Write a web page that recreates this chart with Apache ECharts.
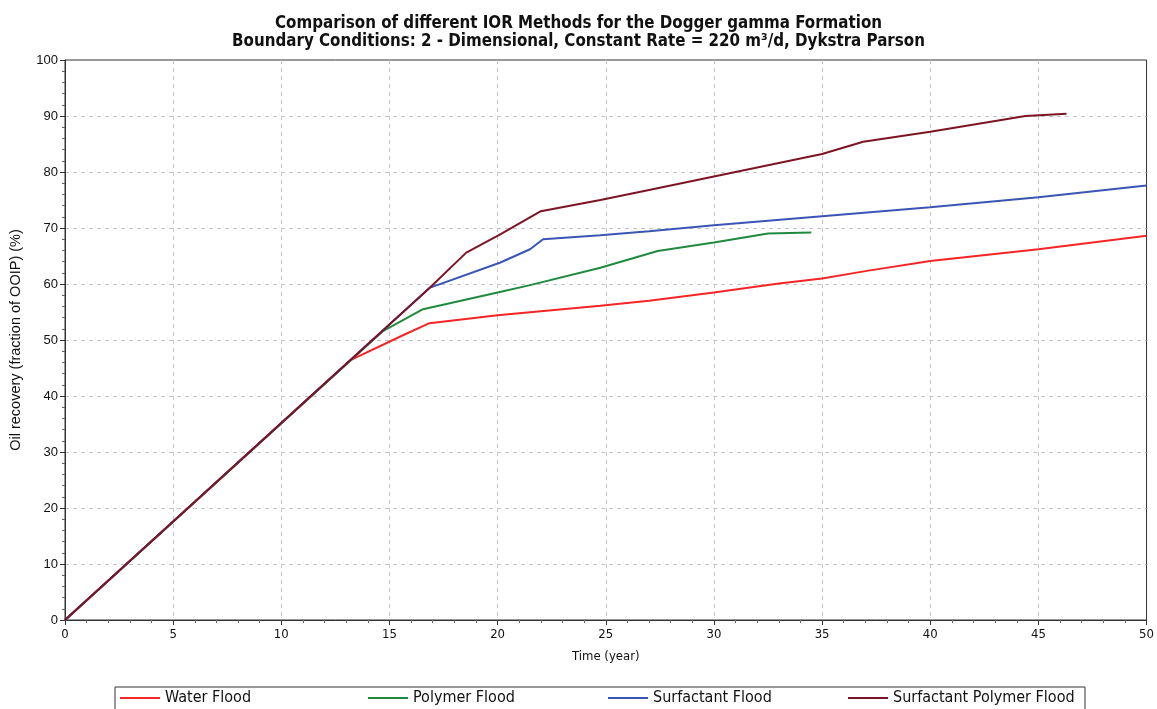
<!DOCTYPE html>
<html>
<head>
<meta charset="utf-8">
<script src="https://cdn.jsdelivr.net/npm/echarts@6/dist/echarts.min.js"></script>
<style>
  html, body { margin: 0; padding: 0; background: #ffffff; }
  #chart { width: 1157px; height: 709px; }
</style>
</head>
<body>
<div id="chart"></div>
<script>
  // series names
  const seriesNames = ['Water Flood', 'Polymer Flood', 'Surfactant Flood', 'Surfactant Polymer Flood']

  // [time (year), oil recovery (%)]
  const waterFlood = [
    [0, 0], [13.2, 46.4], [15.6, 50.8], [16.85, 53.0], [20, 54.4], [24.75, 56.1], [27, 57.0],
    [30, 58.5], [33, 60.1], [35, 61.0], [37, 62.3], [40, 64.1], [45, 66.2], [50, 68.6]
  ]
  const polymerFlood = [
    [0, 0], [14.7, 51.6], [16.55, 55.5], [20, 58.5], [21.5, 59.8], [24.75, 62.9],
    [27.4, 65.9], [30, 67.4], [32.5, 69.0], [34.5, 69.2]
  ]
  const surfactantFlood = [
    [0, 0], [16.85, 59.3], [20.1, 63.8], [21.5, 66.2], [22.1, 68.0], [24.75, 68.7], [27, 69.4],
    [30, 70.5], [35, 72.1], [40, 73.7], [45, 75.5], [50, 77.6]
  ]
  const surfactantPolymerFlood = [
    [0, 0], [16.85, 59.3], [18.55, 65.6], [20.1, 68.8], [22, 73.0], [24.75, 75.0], [27, 76.8],
    [30, 79.2], [35, 83.2], [36.9, 85.4], [40, 87.2], [44.4, 90.0], [46.3, 90.4]
  ]

  const seriesData = [waterFlood, polymerFlood, surfactantFlood, surfactantPolymerFlood]
  const colors = ['#f52525', '#1f8a3e', '#3a55b5', '#7d1424']

  const narrow = '"DejaVu Sans Condensed", "Liberation Sans", sans-serif'
  const plain = '"Liberation Sans", Arial, sans-serif'
  const legendLeft = [120, 368, 608, 848]

  let chart = echarts.init(document.getElementById('chart'))

  chart.setOption({
    animation: false,
    title: {
      text: 'Comparison of different IOR Methods for the Dogger gamma Formation\nBoundary Conditions: 2 - Dimensional, Constant Rate = 220 m³/d, Dykstra Parson',
      left: 'center',
      top: 10,
      textStyle: {
        fontFamily: narrow,
        fontSize: 16.8,
        fontWeight: 'bold',
        color: '#111',
        lineHeight: 18
      }
    },
    legend: seriesNames.map((name, i) => ({
      data: [name],
      left: legendLeft[i],
      top: 690,
      icon: 'rect',
      itemWidth: 40,
      itemHeight: 2,
      itemGap: 4,
      padding: 0,
      textStyle: { fontFamily: narrow, fontSize: 16, color: '#111', padding: [0, 0, 0, 0] }
    })),
    graphic: [{
      type: 'rect',
      shape: { x: 115, y: 687, width: 970, height: 30 },
      style: { fill: 'none', stroke: '#333', lineWidth: 1 }
    }],
    grid: {
      left: 65,
      right: 10,
      top: 60,
      bottom: 89,
      show: true,
      borderColor: '#333',
      borderWidth: 1
    },
    xAxis: {
      type: 'value',
      min: 0,
      max: 50,
      interval: 5,
      name: 'Time (year)',
      nameLocation: 'middle',
      nameGap: 30,
      nameTextStyle: { fontFamily: narrow, fontSize: 13, color: '#111' },
      axisLine: { lineStyle: { color: '#333' } },
      axisTick: { length: 5, lineStyle: { color: '#333' } },
      minorTick: { show: true, splitNumber: 5, length: 3, lineStyle: { color: '#666' } },
      axisLabel: { fontFamily: narrow, fontSize: 13, color: '#111', margin: 8 },
      splitLine: { showMinLine: false, showMaxLine: false, lineStyle: { color: '#c4c4c4', type: [4, 4] } }
    },
    yAxis: {
      type: 'value',
      min: 0,
      max: 100,
      interval: 10,
      name: 'Oil recovery (fraction of OOIP) (%)',
      nameLocation: 'middle',
      nameGap: 42,
      nameTextStyle: { fontFamily: plain, fontSize: 14.5, color: '#111' },
      axisLine: { lineStyle: { color: '#333' } },
      axisTick: { length: 5, lineStyle: { color: '#333' } },
      minorTick: { show: true, splitNumber: 5, length: 3, lineStyle: { color: '#666' } },
      axisLabel: { fontFamily: plain, fontSize: 13, color: '#111', margin: 7 },
      splitLine: { showMinLine: false, showMaxLine: false, lineStyle: { color: '#c4c4c4', type: [4, 4] } }
    },
    series: seriesNames.map((name, i) => ({
      name: name,
      type: 'line',
      data: seriesData[i],
      showSymbol: false,
      symbol: 'none',
      color: colors[i],
      lineStyle: { width: 2, color: colors[i] }
    }))
  })
</script>
</body>
</html>
